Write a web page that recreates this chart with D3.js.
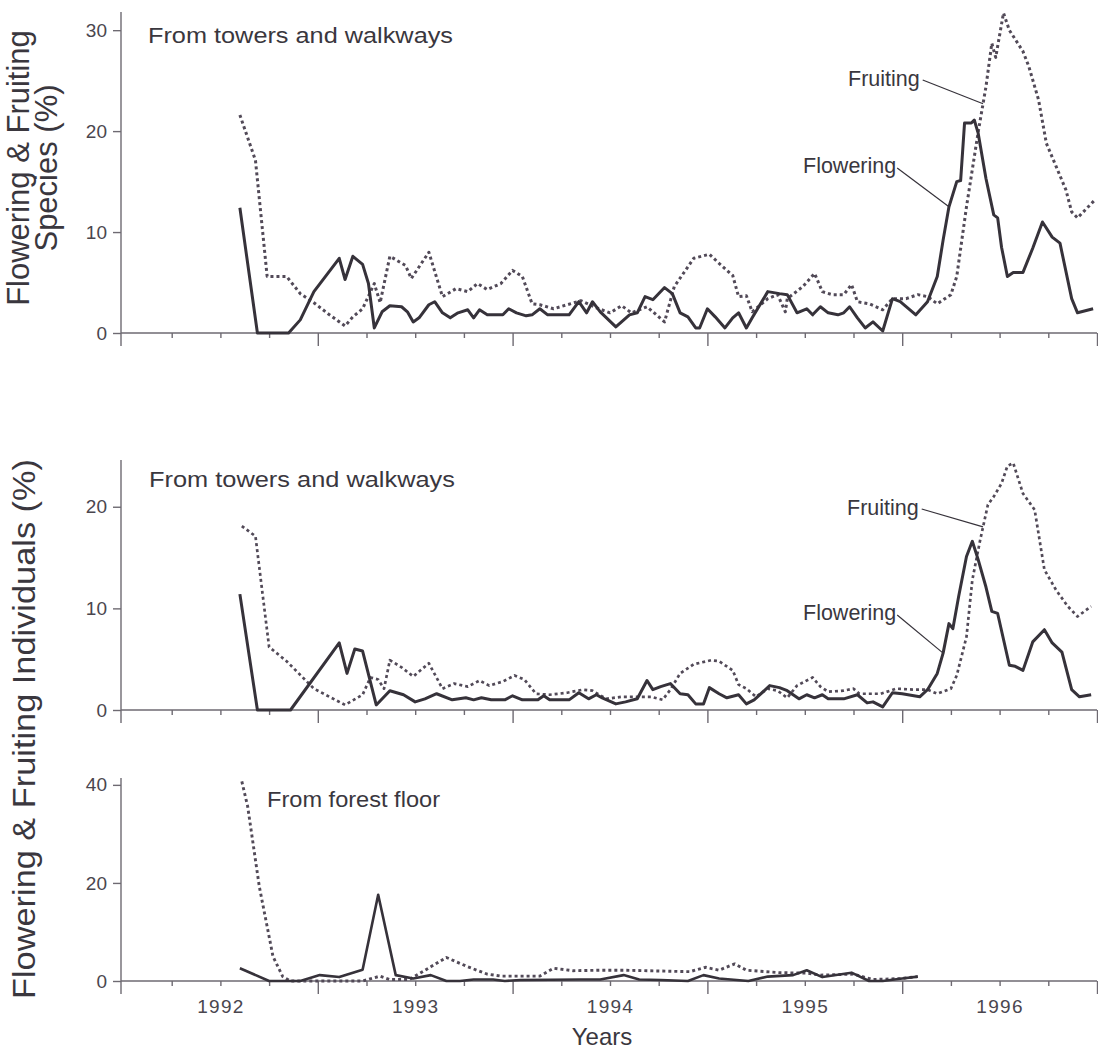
<!DOCTYPE html>
<html>
<head>
<meta charset="utf-8">
<script src="https://cdn.jsdelivr.net/npm/d3@7"></script>
<style>
  html, body { margin: 0; padding: 0; background: #fff; }
  svg { display: block; font-family: "Liberation Sans", Arial, Helvetica, sans-serif; }
</style>
</head>
<body>
<svg id="chart" width="1098" height="1049"></svg>
<script>
// ---- data: [decimal year, percent] ----
const speciesFlowering = [
  [1992.60,12.4],[1992.69,0],[1992.85,0],[1992.91,1.3],[1992.98,4.1],[1993.11,7.4],[1993.14,5.3],[1993.18,7.6],
  [1993.23,6.8],[1993.26,4.9],[1993.29,0.5],[1993.33,2.1],[1993.37,2.7],[1993.43,2.6],[1993.46,2.1],[1993.49,1.1],
  [1993.52,1.5],[1993.57,2.8],[1993.60,3.1],[1993.64,2.0],[1993.68,1.5],[1993.72,2.0],[1993.77,2.3],[1993.80,1.5],
  [1993.83,2.3],[1993.87,1.8],[1993.95,1.8],[1993.98,2.4],[1994.02,2.0],[1994.07,1.7],[1994.10,1.8],[1994.14,2.4],
  [1994.18,1.8],[1994.29,1.8],[1994.34,3.1],[1994.38,2.0],[1994.41,3.1],[1994.45,2.1],[1994.53,0.6],[1994.60,1.8],
  [1994.64,2.0],[1994.68,3.6],[1994.72,3.3],[1994.78,4.5],[1994.82,3.9],[1994.86,2.0],[1994.90,1.6],[1994.94,0.5],
  [1994.96,0.5],[1995.00,2.4],[1995.04,1.6],[1995.09,0.5],[1995.13,1.5],[1995.16,2.0],[1995.20,0.5],[1995.23,1.5],
  [1995.31,4.1],[1995.37,3.9],[1995.41,3.8],[1995.46,2.0],[1995.51,2.4],[1995.54,1.8],[1995.58,2.6],[1995.62,2.0],
  [1995.67,1.8],[1995.70,2.0],[1995.73,2.6],[1995.77,1.5],[1995.81,0.5],[1995.85,1.1],[1995.90,0.2],[1995.95,3.4],
  [1995.99,3.1],[1996.07,1.8],[1996.13,3.1],[1996.18,5.6],[1996.21,9.2],[1996.24,12.5],[1996.28,15.0],[1996.30,15.1],
  [1996.32,20.8],[1996.355,20.8],[1996.37,21.1],[1996.39,19.8],[1996.43,15.3],[1996.47,11.7],[1996.49,11.4],
  [1996.51,8.5],[1996.54,5.6],[1996.57,6.0],[1996.62,6.0],[1996.67,8.4],[1996.72,11.0],[1996.77,9.5],[1996.81,8.9],
  [1996.87,3.4],[1996.90,2.0],[1996.98,2.4]
];
const speciesFruiting = [
  [1992.60,21.6],[1992.68,17.1],[1992.74,5.6],[1992.84,5.6],[1992.91,3.9],[1992.98,3.0],[1993.06,1.8],[1993.14,0.7],
  [1993.18,1.6],[1993.23,2.4],[1993.29,4.9],[1993.32,3.0],[1993.37,7.6],[1993.45,6.7],[1993.48,5.4],[1993.57,8.0],
  [1993.64,3.6],[1993.71,4.4],[1993.77,4.1],[1993.82,4.9],[1993.87,4.3],[1993.94,4.9],[1994.00,6.2],[1994.05,5.6],
  [1994.10,2.9],[1994.14,2.8],[1994.21,2.4],[1994.28,2.8],[1994.35,3.2],[1994.43,2.5],[1994.50,2.0],[1994.56,2.7],
  [1994.61,2.0],[1994.69,2.6],[1994.78,1.1],[1994.83,4.6],[1994.93,7.4],[1995.01,7.8],[1995.06,6.9],[1995.13,5.7],
  [1995.16,3.6],[1995.20,3.7],[1995.23,2.1],[1995.31,3.4],[1995.36,3.8],[1995.40,2.1],[1995.41,3.4],[1995.49,4.6],
  [1995.55,5.9],[1995.59,4.1],[1995.64,3.8],[1995.70,3.8],[1995.74,4.8],[1995.77,3.1],[1995.83,2.9],[1995.90,2.3],
  [1995.95,3.4],[1996.02,3.4],[1996.08,3.8],[1996.13,3.6],[1996.18,2.9],[1996.25,3.8],[1996.28,5.6],[1996.33,12.5],
  [1996.39,19.9],[1996.43,24.4],[1996.46,28.7],[1996.48,27.3],[1996.52,31.7],[1996.55,30.0],[1996.62,27.9],
  [1996.65,26.4],[1996.70,23.1],[1996.74,18.8],[1996.79,16.5],[1996.84,14.2],[1996.87,12.0],[1996.90,11.4],[1996.99,13.2]
];
const individualsFlowering = [
  [1992.60,11.4],[1992.69,0],[1992.86,0],[1993.11,6.6],[1993.15,3.6],[1993.19,6.0],[1993.23,5.8],[1993.30,0.5],
  [1993.37,1.9],[1993.44,1.5],[1993.50,0.8],[1993.55,1.1],[1993.61,1.6],[1993.69,1.0],[1993.76,1.2],[1993.80,1.0],
  [1993.84,1.2],[1993.89,1.0],[1993.96,1.0],[1994.00,1.4],[1994.05,1.0],[1994.13,1.0],[1994.16,1.4],[1994.19,1.0],
  [1994.29,1.0],[1994.34,1.7],[1994.39,1.1],[1994.43,1.5],[1994.46,1.2],[1994.53,0.6],[1994.58,0.8],[1994.64,1.1],
  [1994.69,2.9],[1994.72,2.0],[1994.76,2.3],[1994.81,2.6],[1994.86,1.6],[1994.90,1.5],[1994.94,0.6],[1994.98,0.6],
  [1995.01,2.2],[1995.06,1.6],[1995.10,1.2],[1995.16,1.5],[1995.20,0.6],[1995.24,1.0],[1995.32,2.4],[1995.37,2.2],
  [1995.41,1.9],[1995.47,1.1],[1995.51,1.5],[1995.55,1.2],[1995.59,1.5],[1995.62,1.1],[1995.70,1.1],[1995.77,1.5],
  [1995.82,0.7],[1995.85,0.8],[1995.90,0.3],[1995.95,1.7],[1996.00,1.6],[1996.09,1.3],[1996.13,2.0],[1996.18,3.6],
  [1996.21,5.6],[1996.24,8.5],[1996.26,8.0],[1996.29,11.2],[1996.33,15.1],[1996.36,16.6],[1996.39,14.8],[1996.43,12.1],
  [1996.46,9.7],[1996.49,9.5],[1996.55,4.4],[1996.58,4.3],[1996.62,3.9],[1996.67,6.7],[1996.73,7.9],[1996.77,6.6],
  [1996.82,5.7],[1996.87,2.0],[1996.91,1.3],[1996.97,1.5]
];
const individualsFruiting = [
  [1992.61,18.1],[1992.68,17.1],[1992.75,6.2],[1992.84,4.8],[1992.98,2.1],[1993.14,0.5],[1993.23,1.5],[1993.27,3.2],
  [1993.31,3.0],[1993.34,2.1],[1993.37,4.9],[1993.43,4.2],[1993.49,3.3],[1993.57,4.6],[1993.64,2.1],[1993.70,2.6],
  [1993.77,2.3],[1993.83,2.9],[1993.88,2.4],[1993.95,2.8],[1994.01,3.4],[1994.06,3.0],[1994.12,1.6],[1994.19,1.5],
  [1994.28,1.7],[1994.36,2.0],[1994.41,1.9],[1994.48,1.1],[1994.56,1.3],[1994.64,1.3],[1994.71,1.3],[1994.77,1.0],
  [1994.81,2.0],[1994.86,3.6],[1994.93,4.5],[1995.02,4.9],[1995.06,4.8],[1995.13,3.9],[1995.16,2.5],[1995.20,2.1],
  [1995.25,1.3],[1995.31,2.1],[1995.36,1.9],[1995.41,1.2],[1995.46,2.4],[1995.54,3.2],[1995.58,2.3],[1995.62,1.8],
  [1995.70,1.9],[1995.75,2.1],[1995.78,1.6],[1995.89,1.6],[1995.97,2.1],[1996.06,2.0],[1996.13,2.0],[1996.18,1.6],
  [1996.25,2.1],[1996.28,3.4],[1996.33,7.2],[1996.36,12.8],[1996.40,16.7],[1996.44,20.2],[1996.47,21.0],[1996.51,22.3],
  [1996.54,24.0],[1996.57,24.3],[1996.62,21.3],[1996.68,19.7],[1996.73,13.8],[1996.79,11.8],[1996.85,10.2],
  [1996.90,9.2],[1996.97,10.2]
];
const floorFlowering = [
  [1992.60,2.6],[1992.75,0],[1992.91,0],[1993.01,1.2],[1993.11,0.8],[1993.23,2.3],[1993.31,17.6],[1993.40,1.2],
  [1993.49,0.5],[1993.58,1.2],[1993.66,0],[1993.73,0],[1993.80,0.3],[1993.90,0.3],[1993.96,0],[1994.04,0.2],
  [1994.35,0.3],[1994.45,0.3],[1994.57,1.2],[1994.65,0.3],[1994.76,0.2],[1994.90,0],[1994.98,1.2],[1995.06,0.5],
  [1995.21,0],[1995.31,0.9],[1995.44,1.2],[1995.51,2.2],[1995.59,0.8],[1995.74,1.7],[1995.83,0],[1995.90,0],
  [1996.00,0.5],[1996.08,0.9]
];
const floorFruiting = [
  [1992.61,40.7],[1992.64,35.6],[1992.67,27.4],[1992.70,19.2],[1992.74,11.1],[1992.77,5.0],[1992.82,0.9],[1992.86,0],
  [1992.98,0],[1993.23,0],[1993.32,1.0],[1993.37,0.3],[1993.47,0.3],[1993.58,2.9],[1993.66,4.8],[1993.77,2.9],
  [1993.87,1.4],[1993.94,1.0],[1994.14,1.0],[1994.21,2.6],[1994.31,2.1],[1994.45,2.2],[1994.57,2.2],[1994.91,1.9],
  [1994.99,2.8],[1995.06,2.2],[1995.14,3.5],[1995.20,2.2],[1995.37,1.7],[1995.51,1.6],[1995.58,1.2],[1995.75,1.4],
  [1995.85,0.3],[1995.99,0.5],[1996.08,0.9]
];

// ---- axis ticks and labels ----
const yearStarts = [1993, 1994, 1995, 1996, 1997];
const quarterTicks = [1992.25, 1992.5, 1992.75, 1993.25, 1993.5, 1993.75, 1994.25, 1994.5, 1994.75,
                      1995.25, 1995.5, 1995.75, 1996.25, 1996.5, 1996.75];
const yearLabels = [1992, 1993, 1994, 1995, 1996];
const speciesTicks = [0, 10, 20, 30];
const individualsTicks = [0, 10, 20];
const floorTicks = [0, 20, 40];

// ---- drawing ----
const ink = "#36323a";
const dotInk = "#524a58";
const axisInk = "#6e6a72";
const textInk = "#3a373e";

const svg = d3.select("#chart");
const x = d3.scaleLinear().domain([1992, 1997]).range([123, 1097]);
const axisX = 121;

function valueAt(series, t) {
  for (let i = 1; i < series.length; i++) {
    if (series[i][0] >= t) {
      const [t0, v0] = series[i - 1], [t1, v1] = series[i];
      return v0 + (v1 - v0) * (t - t0) / (t1 - t0);
    }
  }
  return series[series.length - 1][1];
}

const panels = [
  { flowering: speciesFlowering, fruiting: speciesFruiting, ticks: speciesTicks,
    base: 333, top: 12, max: 31.8, flowW: 3, fruitW: 3,
    note: "From towers and walkways", noteX: 148, noteY: 43, noteLen: 305,
    tags: { fruitX: 848, fruitY: 86, fruitT: 1996.415, flowX: 803, flowY: 173, flowT: 1996.24 } },
  { flowering: individualsFlowering, fruiting: individualsFruiting, ticks: individualsTicks,
    base: 710, top: 460, max: 24.6, flowW: 3, fruitW: 2.7,
    note: "From towers and walkways", noteX: 149, noteY: 487, noteLen: 306,
    tags: { fruitX: 847, fruitY: 515, fruitT: 1996.415, flowX: 803, flowY: 620, flowT: 1996.21 } },
  { flowering: floorFlowering, fruiting: floorFruiting, ticks: floorTicks,
    base: 981, top: 778, max: 41.4, flowW: 2.6, fruitW: 2.9,
    note: "From forest floor", noteX: 267, noteY: 807, noteLen: 173, tags: null }
];

panels.forEach((p, i) => {
  const y = d3.scaleLinear().domain([0, p.max]).range([p.base, p.top]);
  const g = svg.append("g");

  // vertical axis line (runs a little below zero like the year ticks)
  g.append("line").attr("x1", axisX).attr("x2", axisX).attr("y1", p.top).attr("y2", p.base + 13)
    .attr("stroke", axisInk).attr("stroke-width", 1.4);
  // horizontal baseline
  g.append("line").attr("x1", axisX).attr("x2", 1097).attr("y1", p.base).attr("y2", p.base)
    .attr("stroke", axisInk).attr("stroke-width", 1.4);

  // y axis ticks and labels
  const ya = g.append("g").attr("transform", `translate(${axisX},0)`)
    .call(d3.axisLeft(y).tickValues(p.ticks).tickSize(8).tickSizeOuter(0).tickPadding(6).tickFormat(d3.format("d")));
  ya.select(".domain").remove();
  ya.selectAll(".tick line").attr("stroke", axisInk).attr("stroke-width", 1.4);
  ya.selectAll(".tick text").attr("fill", "#4a464e").style("font-size", "19px")
    .style("font-family", '"Liberation Sans", Arial, sans-serif');

  // quarterly minor ticks and yearly major ticks
  [[quarterTicks, 5], [yearStarts, 13]].forEach(([vals, len]) => {
    const xa = g.append("g").attr("transform", `translate(0,${p.base})`)
      .call(d3.axisBottom(x).tickValues(vals).tickSize(len).tickSizeOuter(0).tickFormat(""));
    xa.select(".domain").remove();
    xa.selectAll(".tick line").attr("stroke", axisInk).attr("stroke-width", 1.4);
  });

  // fruiting: dotted line
  const line = d3.line().x(d => x(d[0])).y(d => y(d[1]));
  g.append("path").datum(p.fruiting).attr("d", line)
    .attr("fill", "none").attr("stroke", dotInk).attr("stroke-width", p.fruitW)
    .attr("stroke-dasharray", "3,3").attr("stroke-linejoin", "round");
  // flowering: solid line
  g.append("path").datum(p.flowering).attr("d", line)
    .attr("fill", "none").attr("stroke", ink).attr("stroke-width", p.flowW)
    .attr("stroke-linejoin", "round");

  // panel note
  g.append("text").attr("x", p.noteX).attr("y", p.noteY).text(p.note)
    .attr("fill", textInk).style("font-size", "22px")
    .attr("textLength", p.noteLen).attr("lengthAdjust", "spacingAndGlyphs");

  // series tags with leader lines
  if (p.tags) {
    const t = p.tags;
    const fr = g.append("text").attr("x", t.fruitX).attr("y", t.fruitY).text("Fruiting")
      .attr("fill", textInk).style("font-size", "21.5px");
    const fl = g.append("text").attr("x", t.flowX).attr("y", t.flowY).text("Flowering")
      .attr("fill", textInk).style("font-size", "21.5px");
    const frEnd = fr.node().getComputedTextLength() + t.fruitX;
    const flEnd = fl.node().getComputedTextLength() + t.flowX;
    g.append("line").attr("x1", frEnd + 3).attr("y1", t.fruitY - 6)
      .attr("x2", x(t.fruitT)).attr("y2", y(valueAt(p.fruiting, t.fruitT)))
      .attr("stroke", ink).attr("stroke-width", 1.2);
    g.append("line").attr("x1", flEnd + 1).attr("y1", t.flowY - 5)
      .attr("x2", x(t.flowT)).attr("y2", y(valueAt(p.flowering, t.flowT)))
      .attr("stroke", ink).attr("stroke-width", 1.2);
  }

  // year labels under the last panel, centred on each year
  if (i === panels.length - 1) {
    const la = g.append("g").attr("transform", `translate(0,${p.base})`)
      .call(d3.axisBottom(x).tickValues(yearLabels.map(v => v + 0.5)).tickSize(0).tickPadding(19)
        .tickFormat(v => String(Math.floor(v))));
    la.select(".domain").remove();
    la.selectAll(".tick text").attr("fill", "#4a464e").style("font-size", "19px")
      .style("letter-spacing", "1.3px")
      .style("font-family", '"Liberation Sans", Arial, sans-serif');
  }
});

// axis titles
svg.append("text").attr("x", 602).attr("y", 1045).attr("text-anchor", "middle")
  .attr("fill", textInk).style("font-size", "24px").text("Years");

const title1 = svg.append("text").attr("transform", "translate(29,168) rotate(-90)")
  .attr("text-anchor", "middle").attr("fill", textInk).style("font-size", "31px");
title1.append("tspan").attr("x", 0).attr("y", 0).text("Flowering & Fruiting");
title1.append("tspan").attr("x", 0).attr("y", 28).text("Species (%)");

svg.append("text").attr("transform", "translate(35,729) rotate(-90)")
  .attr("text-anchor", "middle").attr("fill", textInk).style("font-size", "31px")
  .attr("textLength", 540).attr("lengthAdjust", "spacingAndGlyphs")
  .text("Flowering & Fruiting Individuals (%)");
</script>
</body>
</html>
